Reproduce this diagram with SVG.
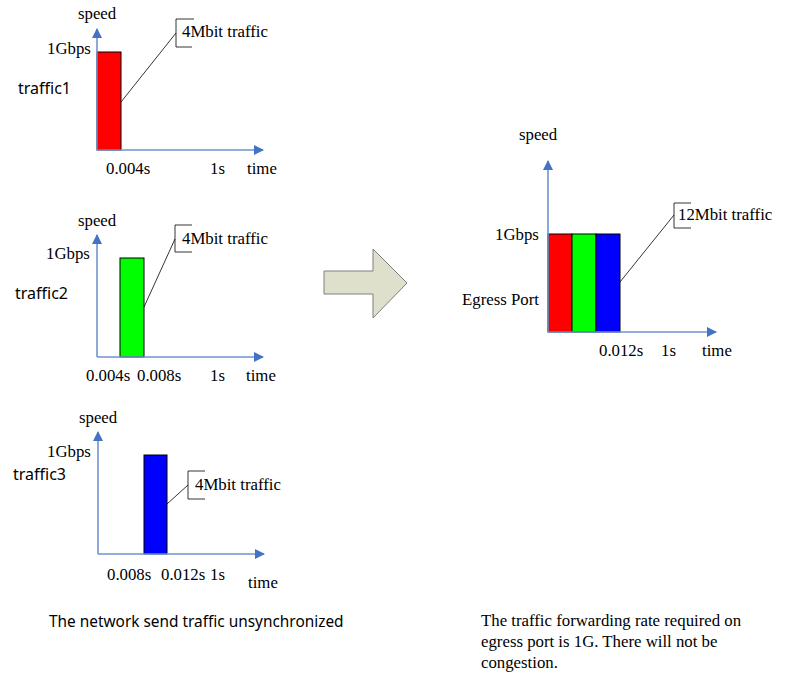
<svg xmlns="http://www.w3.org/2000/svg" width="803" height="691" viewBox="0 0 803 691">
<style>
.t{font-family:"Liberation Serif","Times New Roman",serif;font-size:16.8px;fill:#000}
.s{font-family:"Noto Sans","Liberation Sans",Arial,sans-serif;font-size:16px;fill:#000}
.c{font-family:"Noto Sans","Liberation Sans",Arial,sans-serif;font-size:15.4px;fill:#000}
.ax{stroke:#6f93cf;stroke-width:1.6;fill:none}
.bar{stroke:#000;stroke-width:1}
.ln{stroke:#000;stroke-width:0.8;fill:none}
</style>
<defs>
<marker id="ah" markerWidth="10" markerHeight="10" refX="9" refY="5" orient="auto" markerUnits="userSpaceOnUse">
<path d="M0,0 L10,5 L0,10 Z" fill="#4472c4"/>
</marker>
</defs>
<rect width="803" height="691" fill="#fff"/>

<g id="chart1">
<rect class="bar" x="97" y="52" width="24" height="98" fill="#ff0000"/>
<path class="ax" d="M97,150 V29" marker-end="url(#ah)"/>
<path class="ax" d="M97,150 H263" marker-end="url(#ah)"/>
<text class="t" x="78" y="19">speed</text>
<text class="t" x="47" y="54">1Gbps</text>
<text class="s" x="18" y="94">traffic1</text>
<text class="t" x="106" y="174">0.004s</text>
<text class="t" x="210" y="174">1s</text>
<text class="t" x="247" y="174">time</text>
<path class="ln" d="M121,102 L176,33"/>
<path class="ln" d="M194,19 H176 V47 H192"/>
<text class="t" x="182" y="37">4Mbit traffic</text>
</g>

<g id="chart2">
<rect class="bar" x="120" y="258" width="24" height="99" fill="#00ff00"/>
<path class="ax" d="M97,357 V235" marker-end="url(#ah)"/>
<path class="ax" d="M97,357 H263" marker-end="url(#ah)"/>
<text class="t" x="78" y="226">speed</text>
<text class="t" x="46" y="259">1Gbps</text>
<text class="s" x="15" y="299">traffic2</text>
<text class="t" x="86" y="381">0.004s</text>
<text class="t" x="137" y="381">0.008s</text>
<text class="t" x="210" y="381">1s</text>
<text class="t" x="246" y="381">time</text>
<path class="ln" d="M144,307 L175,239"/>
<path class="ln" d="M192,225 H175 V252 H192"/>
<text class="t" x="182" y="244">4Mbit traffic</text>
</g>

<g id="chart3">
<rect class="bar" x="144" y="455" width="23" height="99" fill="#0000ff"/>
<path class="ax" d="M98,554 V432" marker-end="url(#ah)"/>
<path class="ax" d="M98,554 H264" marker-end="url(#ah)"/>
<text class="t" x="79" y="423">speed</text>
<text class="t" x="47" y="457">1Gbps</text>
<text class="s" x="13" y="480">traffic3</text>
<text class="t" x="107" y="580">0.008s</text>
<text class="t" x="161" y="580">0.012s</text>
<text class="t" x="210" y="580">1s</text>
<text class="t" x="248" y="588">time</text>
<path class="ln" d="M167,504 L188,485"/>
<path class="ln" d="M205,471 H188 V499 H205"/>
<text class="t" x="195" y="490">4Mbit traffic</text>
</g>

<g id="bigarrow">
<path d="M324,271 H373 V249 L407,283 L373,318 V294 H324 Z" fill="#dee0cc" stroke="#7f7f7f" stroke-width="1"/>
</g>

<g id="egress">
<rect class="bar" x="548" y="234" width="24" height="98" fill="#ff0000"/>
<rect class="bar" x="572" y="234" width="24" height="98" fill="#00ff00"/>
<rect class="bar" x="596" y="234" width="24" height="98" fill="#0000ff"/>
<path class="ax" d="M548,332 V161" marker-end="url(#ah)"/>
<path class="ax" d="M548,332 H716" marker-end="url(#ah)"/>
<text class="t" x="519" y="140">speed</text>
<text class="t" x="495" y="240">1Gbps</text>
<text class="t" x="462" y="305">Egress Port</text>
<text class="t" x="599" y="356">0.012s</text>
<text class="t" x="661" y="356">1s</text>
<text class="t" x="702" y="356">time</text>
<path class="ln" d="M620,282 L674,215"/>
<path class="ln" d="M691,203 H674 V228 H691"/>
<text class="t" x="678" y="220">12Mbit traffic</text>
</g>

<g id="captions">
<text class="c" x="49" y="627">The network send traffic unsynchronized</text>
<text class="t" x="481" y="626">The traffic forwarding rate required on</text>
<text class="t" x="481" y="647">egress port is 1G. There will not be</text>
<text class="t" x="481" y="668">congestion.</text>
</g>
</svg>
